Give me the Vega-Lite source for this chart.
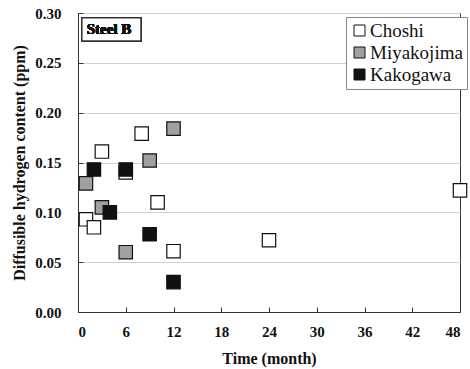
{
  "$schema": "https://vega.github.io/schema/vega-lite/v6.json",
  "autosize": {"type": "none"},
  "width": 382,
  "height": 299,
  "padding": {"left": 78, "top": 13, "right": 10, "bottom": 57},
  "background": "white",
  "config": {
    "view": {"stroke": "#333", "strokeWidth": 1},
    "font": "Liberation Serif"
  },
  "data": {
    "values": [
      {"site": "Choshi", "month": 1, "h": 0.093},
      {"site": "Choshi", "month": 2, "h": 0.085},
      {"site": "Choshi", "month": 3, "h": 0.161},
      {"site": "Choshi", "month": 6, "h": 0.140},
      {"site": "Choshi", "month": 8, "h": 0.179},
      {"site": "Choshi", "month": 10, "h": 0.110},
      {"site": "Choshi", "month": 12, "h": 0.061},
      {"site": "Choshi", "month": 24, "h": 0.072},
      {"site": "Choshi", "month": 48, "h": 0.122},
      {"site": "Miyakojima", "month": 1, "h": 0.129},
      {"site": "Miyakojima", "month": 3, "h": 0.105},
      {"site": "Miyakojima", "month": 6, "h": 0.060},
      {"site": "Miyakojima", "month": 9, "h": 0.152},
      {"site": "Miyakojima", "month": 12, "h": 0.184},
      {"site": "Kakogawa", "month": 2, "h": 0.143},
      {"site": "Kakogawa", "month": 4, "h": 0.100},
      {"site": "Kakogawa", "month": 6, "h": 0.143},
      {"site": "Kakogawa", "month": 9, "h": 0.078},
      {"site": "Kakogawa", "month": 12, "h": 0.030}
    ]
  },
  "layer": [
    {
      "mark": {"type": "point", "shape": "square", "filled": true, "stroke": "#111", "strokeWidth": 1.2, "size": 180, "opacity": 1},
      "encoding": {
        "x": {
          "field": "month", "type": "quantitative",
          "scale": {"domain": [0, 48], "nice": false, "zero": true},
          "axis": {
            "values": [0, 6, 12, 18, 24, 30, 36, 42, 48],
            "title": "Time (month)",
            "titleFont": "Liberation Serif", "titleFontSize": 16, "titleFontWeight": "bold", "titleColor": "#111",
            "titlePadding": 11,
            "labelFont": "Liberation Serif", "labelFontSize": 15, "labelFontWeight": "bold", "labelColor": "#111",
            "labelPadding": 17,
            "tickSize": -5, "tickColor": "#333",
            "domainColor": "#333",
            "grid": false
          }
        },
        "y": {
          "field": "h", "type": "quantitative",
          "scale": {"domain": [0, 0.3], "nice": false},
          "axis": {
            "values": [0, 0.05, 0.1, 0.15, 0.2, 0.25, 0.3],
            "format": ".2f",
            "title": "Diffusible hydrogen content (ppm)",
            "titleFont": "Liberation Serif", "titleFontSize": 16, "titleFontWeight": "bold", "titleColor": "#111",
            "titlePadding": 7,
            "labelFont": "Liberation Serif", "labelFontSize": 15, "labelFontWeight": "bold", "labelColor": "#111",
            "labelPadding": 22,
            "tickSize": -5, "tickColor": "#333",
            "domainColor": "#333",
            "grid": true, "gridColor": "#d0d0d0", "gridWidth": 1
          }
        },
        "fill": {
          "field": "site", "type": "nominal",
          "scale": {"domain": ["Choshi", "Miyakojima", "Kakogawa"], "range": ["#ffffff", "#a0a0a0", "#111111"]},
          "legend": {
            "title": null,
            "orient": "none",
            "legendX": 268,
            "legendY": 4,
            "padding": 4,
            "strokeColor": "#888",
            "fillColor": "white",
            "symbolType": "square",
            "symbolSize": 121,
            "symbolStrokeColor": "#111",
            "symbolStrokeWidth": 1,
            "symbolOpacity": 1,
            "labelFont": "Liberation Serif",
            "labelFontSize": 19,
            "labelColor": "#111",
            "labelOffset": 1,
            "rowPadding": 2
          }
        }
      }
    },
    {
      "mark": {"type": "rect", "fill": "white", "stroke": "#333", "strokeWidth": 1.2},
      "encoding": {
        "x": {"datum": 0.5},
        "x2": {"datum": 7.9},
        "y": {"datum": 0.295},
        "y2": {"datum": 0.272}
      }
    },
    {
      "mark": {"type": "text", "text": "Steel B", "align": "left", "baseline": "middle", "font": "Liberation Serif", "fontSize": 15, "fontWeight": "bold", "color": "#111"},
      "encoding": {
        "x": {"datum": 1.1},
        "y": {"datum": 0.2835}
      }
    }
  ]
}
